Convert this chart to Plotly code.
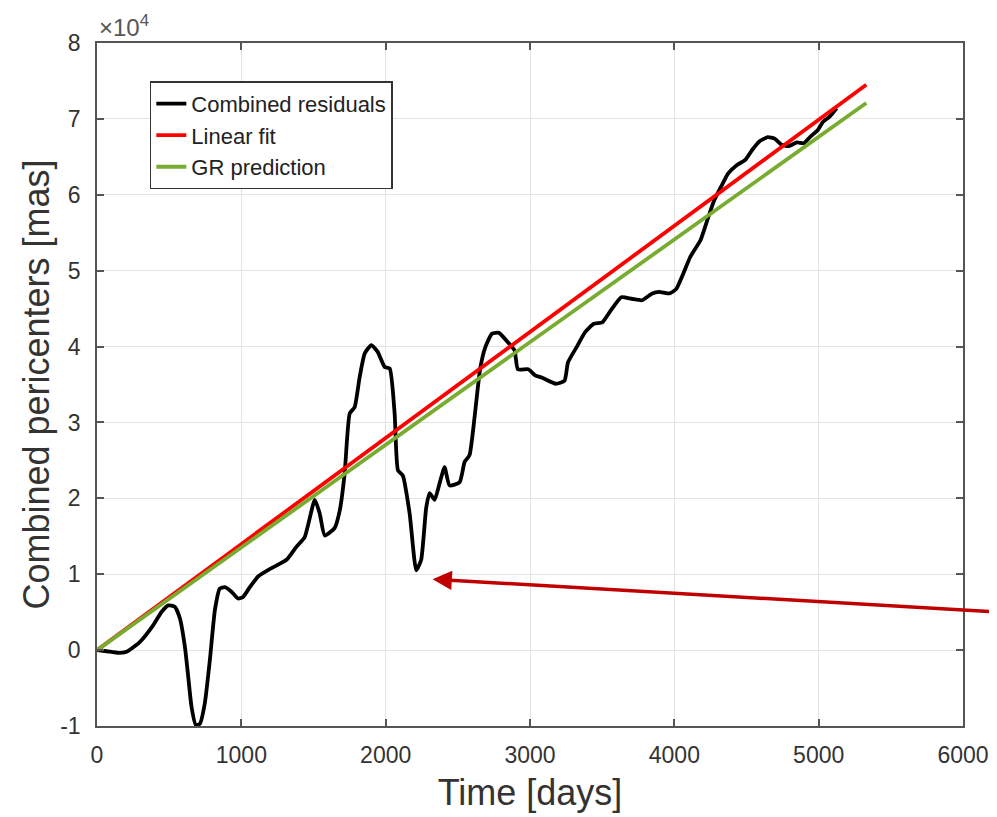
import plotly.graph_objects as go

# Combined residuals (time in days, pericenter shift in mas)
time_days = [0, 67, 148, 205, 298, 390, 448, 494, 540, 574, 609, 632, 655, 685, 713, 747, 782, 817, 851, 886,
             932, 978, 1012, 1059, 1116, 1209, 1313, 1381, 1439, 1509, 1543, 1578, 1647, 1682, 1716, 1751, 1785,
             1820, 1855, 1901, 1945, 1993, 2028, 2062, 2085, 2119, 2166, 2212, 2246, 2281, 2304, 2339, 2374, 2408,
             2443, 2512, 2547, 2581, 2616, 2654, 2690, 2737, 2785, 2845, 2893, 2916, 2988, 3036, 3084, 3179, 3239,
             3263, 3322, 3382, 3442, 3501, 3561, 3633, 3704, 3776, 3847, 3895, 3967, 4014, 4062, 4110, 4181, 4229,
             4277, 4325, 4372, 4432, 4492, 4539, 4587, 4647, 4695, 4742, 4790, 4850, 4897, 4945, 4993, 5029, 5076,
             5124]
residuals = [0, -150, -370, -220, 1100, 3300, 5050, 5900, 5700, 4200, 440, -3500, -7500, -9900, -9700, -7000,
             -1300, 5300, 8100, 8300, 7700, 6800, 7000, 8300, 9700, 10800, 11900, 13600, 14900, 19800, 18000, 15100,
             16100, 18400, 23300, 31200, 32000, 36000, 39100, 40200, 39300, 37300, 37100, 31200, 23700, 23000, 18000,
             10500, 11900, 18800, 20700, 19800, 22000, 24100, 21700, 22100, 24800, 25700, 30700, 37000, 39900, 41700,
             41800, 40600, 39500, 37000, 37000, 36200, 35900, 35100, 35500, 37900, 39900, 41900, 43000, 43200, 44800,
             46500, 46300, 46100, 47000, 47200, 47000, 47600, 49600, 51800, 54000, 56700, 59300, 61100, 62800, 63900,
             64600, 65900, 67000, 67600, 67400, 66600, 66400, 66900, 66800, 67700, 68500, 69600, 70300, 71400]

# Straight lines (end points)
line_x = [0, 5330]
linear_fit_y = [0, 74500]
gr_prediction_y = [0, 72100]

# Axis ticks
x_ticks = [0, 1000, 2000, 3000, 4000, 5000, 6000]
y_tick_vals = [-10000, 0, 10000, 20000, 30000, 40000, 50000, 60000, 70000, 80000]
y_tick_text = ["-1", "0", "1", "2", "3", "4", "5", "6", "7", "8"]

# Arrow (head and tail, data coordinates)
arrow_head = (2325, 9350)
arrow_tail = (6260, 5000)

FONT = "Liberation Sans, Arial, Helvetica, sans-serif"
TXT = "#333333"

fig = go.Figure()
fig.add_trace(go.Scatter(x=time_days, y=residuals, mode="lines", name="Combined residuals",
                         line=dict(color="black", width=3.8, shape="spline", smoothing=0.5)))
fig.add_trace(go.Scatter(x=line_x, y=linear_fit_y, mode="lines", name="Linear fit",
                         line=dict(color="#FF0000", width=3.8)))
fig.add_trace(go.Scatter(x=line_x, y=gr_prediction_y, mode="lines", name="GR prediction",
                         line=dict(color="#77AC30", width=3.8)))

fig.add_annotation(x=arrow_head[0], y=arrow_head[1], ax=arrow_tail[0], ay=arrow_tail[1],
                   xref="x", yref="y", axref="x", ayref="y", text=" ", showarrow=True,
                   arrowhead=2, arrowsize=1.1, arrowwidth=3.5, arrowcolor="#C00000")

fig.add_annotation(xref="paper", yref="paper", x=0, y=1, xanchor="left", yanchor="bottom",
                   text="×10<sup>4</sup>", showarrow=False,
                   font=dict(family=FONT, size=24, color="#555555"))

axis_common = dict(showgrid=True, gridcolor="#E3E3E3", gridwidth=1, zeroline=False,
                   showline=True, linecolor="#555555", linewidth=1.5, mirror="ticks",
                   ticks="inside", ticklen=7, tickcolor="#555555", tickwidth=1.5,
                   tickfont=dict(family=FONT, size=23, color=TXT))

fig.update_xaxes(range=[0, 6000], tickvals=x_ticks, ticklabelstandoff=8,
                 title=dict(text="Time [days]", font=dict(family=FONT, size=36, color=TXT), standoff=12),
                 **axis_common)
fig.update_yaxes(range=[-10000, 80000], tickvals=y_tick_vals, ticktext=y_tick_text, ticklabelstandoff=10,
                 title=dict(text="Combined pericenters [mas]", font=dict(family=FONT, size=36, color=TXT),
                            standoff=0),
                 **axis_common)

fig.update_layout(
    width=989, height=809,
    margin=dict(l=89, r=34, t=35, b=91, autoexpand=False),
    plot_bgcolor="white", paper_bgcolor="white",
    font=dict(family=FONT, color=TXT),
    legend=dict(x=0.061, y=0.944, xanchor="left", yanchor="top",
                bgcolor="white", bordercolor="#333333", borderwidth=1.5,
                font=dict(family=FONT, size=22, color="#222222")),
    showlegend=True,
)

fig.write_html("out.html")
